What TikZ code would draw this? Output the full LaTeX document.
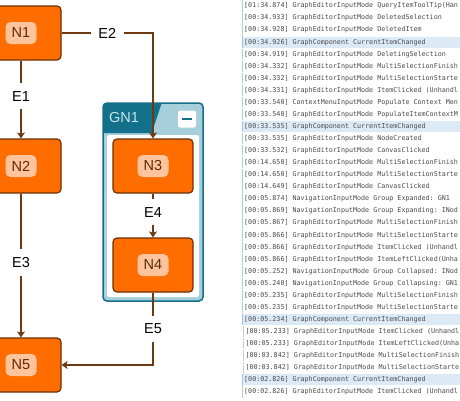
\documentclass[tikz,border=0pt]{standalone}
\usepackage{fontspec}
\setsansfont{Liberation Sans}
\setmonofont{DejaVu Sans Mono}
\usetikzlibrary{arrows.meta}

\definecolor{nodeorange}{HTML}{FF6D00}
\definecolor{nodeborder}{HTML}{6B3000}
\definecolor{labelpeach}{HTML}{FFC49C}
\definecolor{labelbrown}{HTML}{5A2D0C}
\definecolor{edgebrown}{HTML}{6E3A12}
\definecolor{groupteal}{HTML}{13708A}
\definecolor{grouplight}{HTML}{A6CFDB}
\definecolor{grouptext}{HTML}{C9E4EB}
\definecolor{rowblue}{HTML}{DCEAF6}
\definecolor{bargreen}{HTML}{AED8AE}
\definecolor{barblue}{HTML}{A3C6E6}
\definecolor{bargrey}{HTML}{C8CCD0}
\definecolor{logtext}{HTML}{4A4A4A}

\tikzset{
  graphnode/.style={draw=nodeborder, fill=nodeorange, line width=1.2pt, rounded corners=4pt,
    minimum width=80pt, minimum height=54pt, inner sep=0pt},
  nodetag/.style={fill=labelpeach, text=labelbrown, rounded corners=5pt, minimum width=31pt,
    minimum height=22pt, inner sep=0pt, font=\sffamily\fontsize{14.5}{17}\selectfont},
  edge/.style={draw=edgebrown, line width=1.4pt, -{Stealth[length=6pt,width=8pt,inset=1.5pt]}},
  edgetag/.style={fill=white, inner xsep=7.5pt, inner ysep=8pt, font=\sffamily\fontsize{14.5}{17}\selectfont},
  groupbox/.style={draw=groupteal, fill=grouplight, line width=1.5pt, rounded corners=4pt,
    minimum width=100pt, minimum height=198pt},
  grouptitle/.style={text=grouptext, inner sep=0pt, font=\sffamily\fontsize{14.5}{17}\selectfont},
  togglebox/.style={fill=white, rounded corners=2pt, minimum width=18pt, minimum height=17pt, inner sep=0pt},
  logrow/.style={anchor=west, minimum height=11pt, inner ysep=0pt, inner xsep=1.5pt, text=logtext,
    font=\ttfamily\fontsize{6.7}{8}\selectfont},
  row-n/.style={fill=white},
  row-h/.style={fill=rowblue},
  row-i/.style={fill=white, xshift=1.3pt},
  bar-n/.style={draw=bargreen, line width=1.2pt},
  bar-h/.style={draw=barblue, line width=1.2pt},
  bar-i/.style={draw=bargrey, line width=1.2pt},
}

\begin{document}
\begin{tikzpicture}[x=1pt, y=-1pt]
        \useasboundingbox (0,0) rectangle (460,400);

        % Defining the group node
        \node[groupbox] (GN1) at (153,202) {};
        \begin{scope}
            \clip[rounded corners=4pt] (103,103) rectangle (203,301);
            \fill[groupteal] (103,103) -- (161.7,103) -- (151.7,133) -- (103,133) -- cycle;
        \end{scope}
        \fill[white, rounded corners=2pt] (107,135) rectangle (199,297);
        \node[grouptitle] (GN1-title) at (124,118) {GN1};
        \node[togglebox] (GN1-toggle) at (187,119) {};
        \draw[groupteal, line width=2pt] ([xshift=-5pt]GN1-toggle.center) -- ([xshift=5pt]GN1-toggle.center);

        % Defining the nodes
        \foreach \n/\x/\y in {N1/21/33, N2/21/166, N3/153/166, N4/153/265, N5/21/365} {
            \node[graphnode] (\n) at (\x,\y) {};
            \node[nodetag] (\n-tag) at (\n) {\n};
        }

        % Defining the edges
        \draw[edge] (N1) -- node[edgetag, pos=0.46] (E1) {E1} (N2);
        \draw[edge] (N1) -| node[edgetag, pos=0.25] (E2) {E2} (N3);
        \draw[edge] (N2) -- node[edgetag, pos=0.48] (E3) {E3} (N5);
        \draw[edge] (N3) -- node[edgetag, pos=0.43] (E4) {E4} (N4);
        \draw[edge] (N4) |- node[edgetag, pos=0.25] (E5) {E5} (N5);

        % Event log
        \begin{scope}
            \clip (238,0) rectangle (460,400);
            \foreach \msg/\kind [count=\i] in {
                {[01:34.874] GraphEditorInputMode QueryItemToolTip(Han}/n,
                {[00:34.933] GraphEditorInputMode DeletedSelection}/n,
                {[00:34.928] GraphEditorInputMode DeletedItem}/n,
                {[00:34.926] GraphComponent CurrentItemChanged}/h,
                {[00:34.919] GraphEditorInputMode DeletingSelection}/n,
                {[00:34.332] GraphEditorInputMode MultiSelectionFinish}/n,
                {[00:34.332] GraphEditorInputMode MultiSelectionStarte}/n,
                {[00:34.331] GraphEditorInputMode ItemClicked (Unhandl}/n,
                {[00:33.540] ContextMenuInputMode Populate Context Men}/n,
                {[00:33.540] GraphEditorInputMode PopulateItemContextM}/n,
                {[00:33.535] GraphComponent CurrentItemChanged}/h,
                {[00:33.535] GraphEditorInputMode NodeCreated}/n,
                {[00:33.532] GraphEditorInputMode CanvasClicked}/n,
                {[00:14.650] GraphEditorInputMode MultiSelectionFinish}/n,
                {[00:14.650] GraphEditorInputMode MultiSelectionStarte}/n,
                {[00:14.649] GraphEditorInputMode CanvasClicked}/n,
                {[00:05.874] NavigationInputMode Group Expanded: GN1}/n,
                {[00:05.869] NavigationInputMode Group Expanding: INod}/n,
                {[00:05.867] GraphEditorInputMode MultiSelectionFinish}/n,
                {[00:05.866] GraphEditorInputMode MultiSelectionStarte}/n,
                {[00:05.866] GraphEditorInputMode ItemClicked (Unhandl}/n,
                {[00:05.866] GraphEditorInputMode ItemLeftClicked(Unha}/n,
                {[00:05.252] NavigationInputMode Group Collapsed: INod}/n,
                {[00:05.240] NavigationInputMode Group Collapsing: GN1}/n,
                {[00:05.235] GraphEditorInputMode MultiSelectionFinish}/n,
                {[00:05.235] GraphEditorInputMode MultiSelectionStarte}/n,
                {[00:05.234] GraphComponent CurrentItemChanged}/h,
                {[00:05.233] GraphEditorInputMode ItemClicked (Unhandl}/i,
                {[00:05.233] GraphEditorInputMode ItemLeftClicked(Unha}/i,
                {[00:03.842] GraphEditorInputMode MultiSelectionFinish}/i,
                {[00:03.842] GraphEditorInputMode MultiSelectionStarte}/i,
                {[00:02.826] GraphComponent CurrentItemChanged}/h,
                {[00:02.826] GraphEditorInputMode ItemClicked (Unhandl}/n} {
                \node[logrow, row-\kind] (row\i) at (242.5, {6+12.06*(\i-1)}) {\makebox[216pt][l]{\msg}};
                \draw[bar-\kind] (row\i.north west) -- (row\i.south west);
            }
        \end{scope}
    
    \end{tikzpicture}
\end{document}
